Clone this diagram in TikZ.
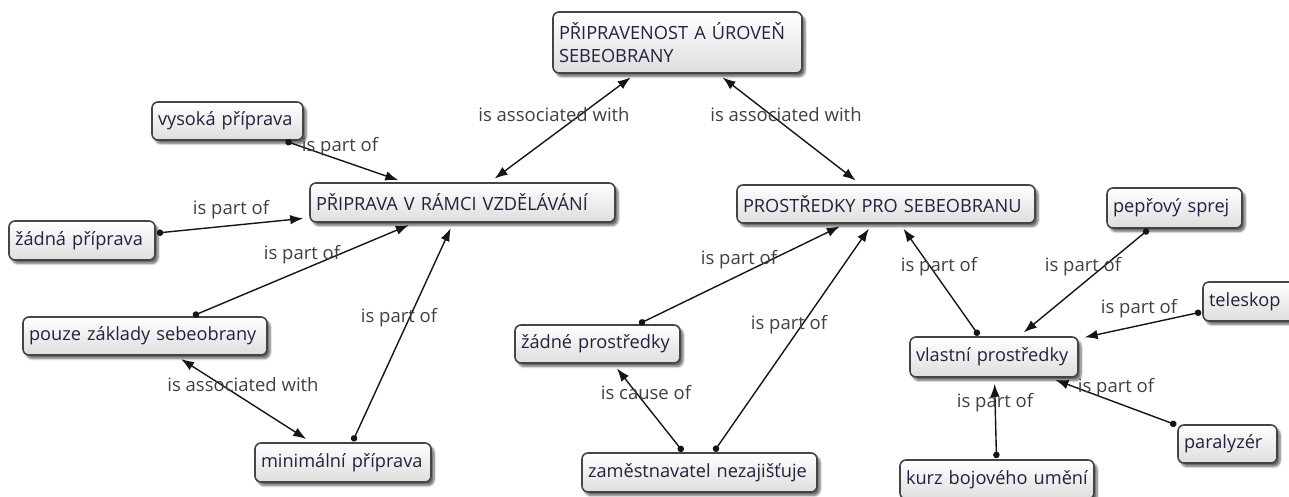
\documentclass[tikz,border=0pt]{standalone}
\usepackage{fontspec}
\setmainfont{Open Sans}
\usetikzlibrary{arrows.meta,shadows.blur}
\definecolor{conceptborder}{HTML}{444444}
\definecolor{concepttext}{HTML}{22223F}
\definecolor{linktext}{HTML}{404040}
\definecolor{linkline}{HTML}{151515}
\tikzset{
  concept/.style={draw=conceptborder, line width=1.6pt, rounded corners=6pt,
    top color=white, bottom color=black!13,
    blur shadow={shadow xshift=3pt, shadow yshift=-3.5pt, shadow opacity=60, shadow blur steps=6},
    text=concepttext, font=\fontsize{18.2}{23}\selectfont,
    inner xsep=6pt, inner ysep=0pt, align=left},
  linklabel/.style={text=linktext, font=\fontsize{18.5}{22}\selectfont, inner sep=0pt},
  tipend/.tip={Latex[length=13pt,width=9.5pt]},
  link/.style={draw=linkline, line width=1.4pt, shorten <=1pt, shorten >=6pt,
    {Circle[length=6.5pt]}-tipend},
  assoc/.style={draw=linkline, line width=1.4pt, shorten <=6pt, shorten >=6pt,
    tipend-tipend},
}
\begin{document}
\begin{tikzpicture}[x=1pt,y=-1pt]
\useasboundingbox (0,0) rectangle (1289,497);

% concepts
\node[concept, minimum width=249pt, minimum height=61pt, text width=237pt] (top) at (677.5,42.5)
  {PŘIPRAVENOST A ÚROVEŇ\\SEBEOBRANY};
\node[concept, minimum width=305pt, minimum height=39pt, text width=293pt] (prip) at (462.5,202.5)
  {\mbox{PŘIPRAVA V RÁMCI VZDĚLÁVÁNÍ}};
\node[concept, minimum width=298pt, minimum height=38pt, text width=286pt] (prost) at (886,204)
  {\mbox{PROSTŘEDKY PRO SEBEOBRANU}};
\node[concept, minimum width=151pt, minimum height=38pt, text width=139pt] (vys) at (227.5,121)
  {\mbox{vysoká příprava}};
\node[concept, minimum width=146pt, minimum height=39pt, text width=134pt] (zadna) at (82,240.5)
  {\mbox{žádná příprava}};
\node[concept, minimum width=244pt, minimum height=38pt, text width=232pt] (pouze) at (145,336)
  {\mbox{pouze základy sebeobrany}};
\node[concept, minimum width=176pt, minimum height=39pt, text width=164pt] (minim) at (343,462.5)
  {\mbox{minimální příprava}};
\node[concept, minimum width=165pt, minimum height=38pt, text width=153pt] (zadne) at (597.5,344)
  {\mbox{žádné prostředky}};
\node[concept, minimum width=235pt, minimum height=39pt, text width=223pt] (zam) at (699.5,472.5)
  {\mbox{zaměstnavatel nezajišťuje}};
\node[concept, minimum width=168pt, minimum height=40pt, text width=156pt] (vlast) at (994,357)
  {\mbox{vlastní prostředky}};
\node[concept, minimum width=135pt, minimum height=40pt, text width=123pt] (pepr) at (1174.5,208)
  {\mbox{pepřový sprej}};
\node[concept, minimum width=94pt, minimum height=39pt, text width=82pt] (tele) at (1250,301.5)
  {\mbox{teleskop}};
\node[concept, minimum width=99pt, minimum height=38pt, text width=87pt] (para) at (1227.5,444)
  {\mbox{paralyzér}};
\node[concept, minimum width=194pt, minimum height=39pt, text width=182pt] (kurz) at (997,479.5)
  {\mbox{kurz bojového umění}};

% connectors
\draw[assoc] (prip) -- (top);
\draw[assoc] (top) -- (prost);
\draw[link] (vys) -- (prip);
\draw[link] (zadna) -- (prip);
\draw[link] (pouze) -- (prip);
\draw[link] (minim) -- (prip);
\draw[assoc] (pouze) -- (minim);
\draw[link] (zadne) -- (prost);
\draw[link] (zam) -- (prost);
\draw[link] (zam) -- (zadne);
\draw[link] (vlast) -- (prost);
\draw[link] (pepr) -- (vlast);
\draw[link] (tele) -- (vlast);
\draw[link] (para) -- (vlast);
\draw[link] (kurz) -- (vlast);

% linking phrases
\node[linklabel] (l1) at (554,115) {is associated with};
\node[linklabel] (l2) at (786,115) {is associated with};
\node[linklabel] (l3) at (340,147) {is part of};
\node[linklabel] (l4) at (231,210) {is part of};
\node[linklabel] (l5) at (302,255) {is part of};
\node[linklabel] (l6) at (399,318) {is part of};
\node[linklabel] (l7) at (243,385) {is associated with};
\node[linklabel] (l8) at (739,260) {is part of};
\node[linklabel] (l9) at (789,325) {is part of};
\node[linklabel] (l10) at (646,393) {is cause of};
\node[linklabel] (l11) at (939,267) {is part of};
\node[linklabel] (l12) at (1083,267) {is part of};
\node[linklabel] (l13) at (1139,309) {is part of};
\node[linklabel] (l14) at (1116,388) {is part of};
\node[linklabel] (l15) at (995,403) {is part of};
\end{tikzpicture}
\end{document}
